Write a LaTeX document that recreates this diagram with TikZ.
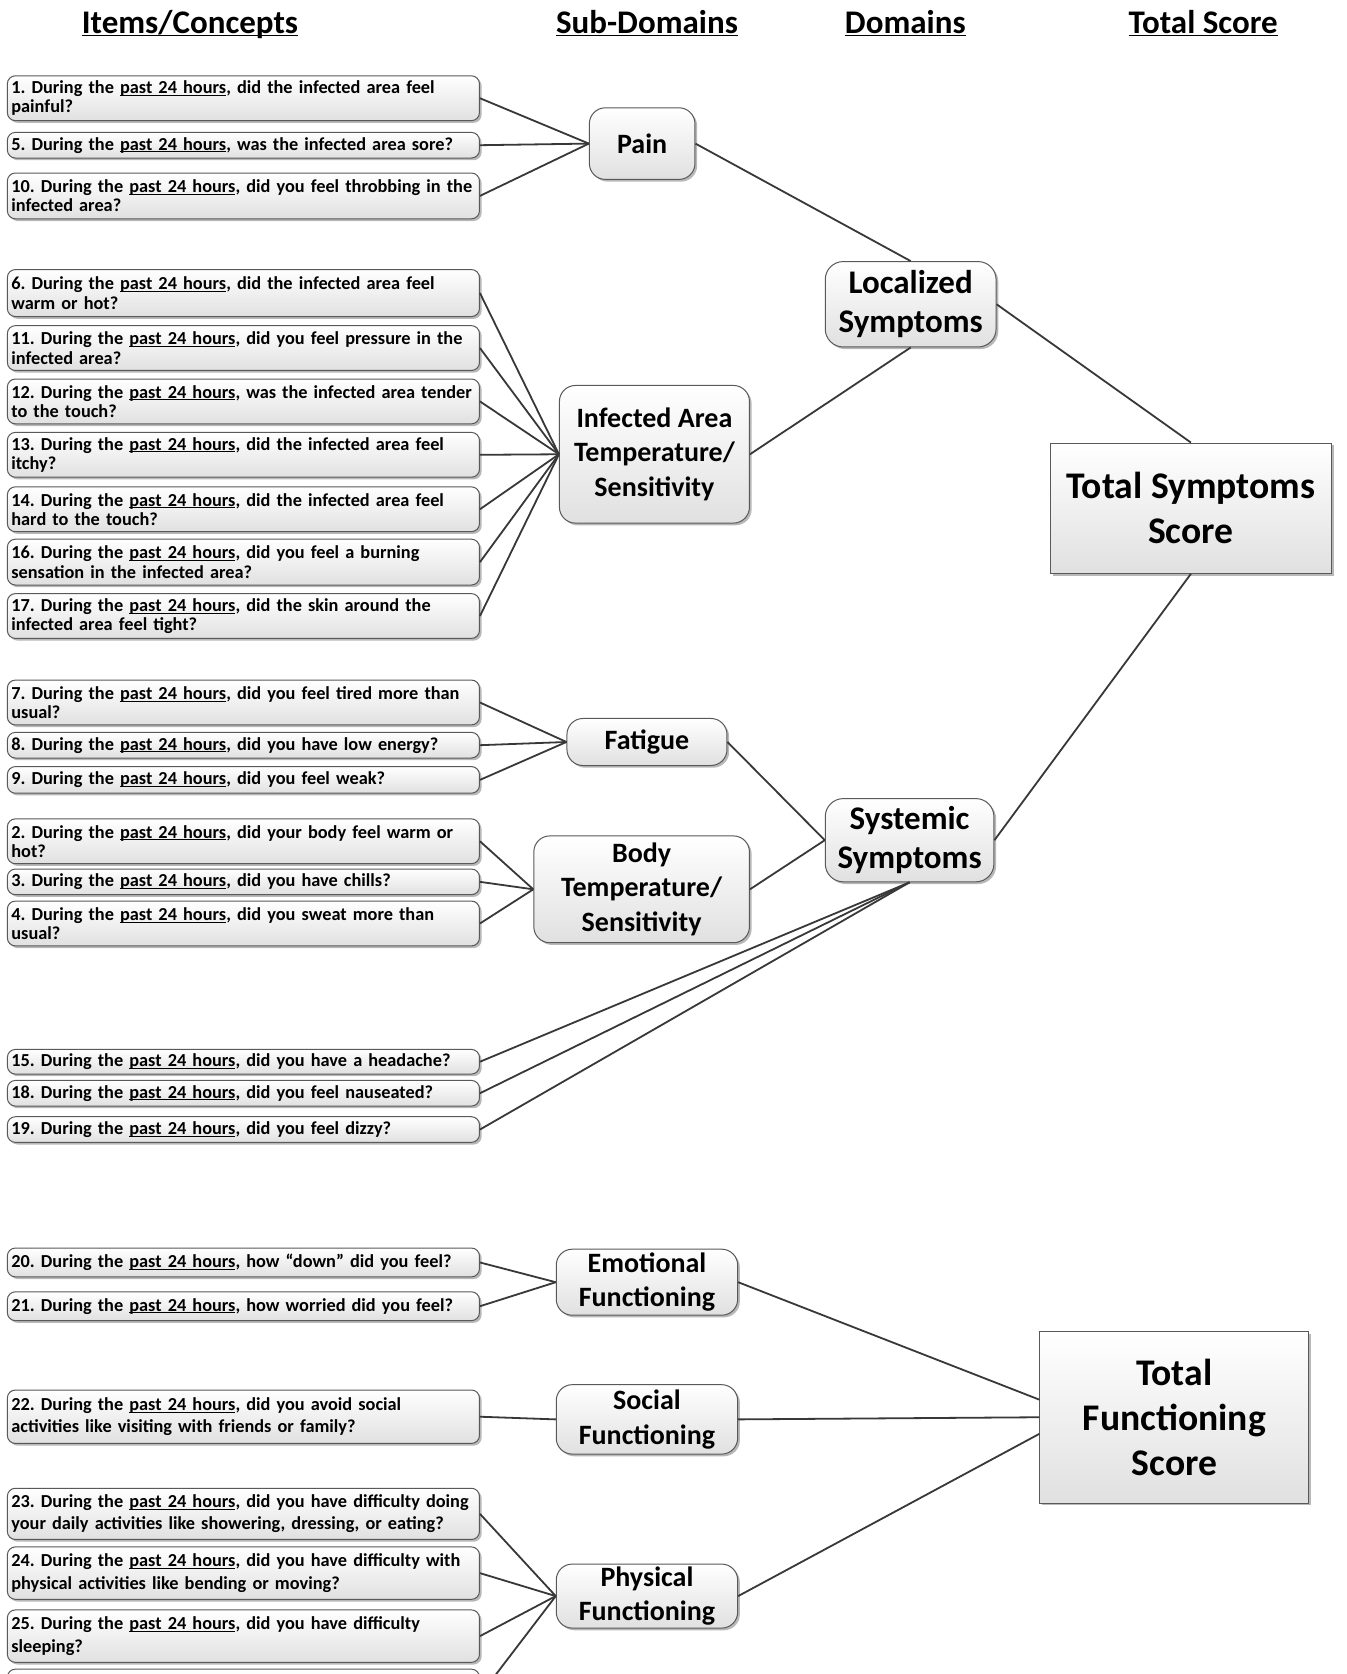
\documentclass[tikz,border=0pt]{standalone}
\usepackage{fontspec}
\setmainfont{Carlito}[BoldFont={Carlito Bold}]
\usetikzlibrary{shadows}
\frenchspacing
\newcommand\uln[2]{\setbox0\hbox{#2}\rlap{\rule[-#1]{\wd0}{0.45pt}}\box0}
\newcommand\pst{\uln{1.1pt}{past 24 hours}}
\tikzset{
  boxbase/.style={draw=black!65, line width=0.5pt, top color=white, bottom color=black!12,
    drop shadow={shadow xshift=1.1pt, shadow yshift=-1.1pt, fill=black!28, opacity=1}},
  item/.style={boxbase, rounded corners=4pt, text width=232pt, align=left, inner xsep=2pt, inner ysep=0.5pt,
    font=\bfseries\fontsize{9.15}{9.6}\selectfont, anchor=center},
  itemlow/.style={item, font=\bfseries\fontsize{9.15}{11.2}\selectfont},
  sub/.style={boxbase, rounded corners=8pt, align=center, inner sep=0pt,
    font=\bfseries\fontsize{14}{17.3}\selectfont},
  dom/.style={boxbase, rounded corners=9pt, align=center, inner sep=0pt,
    font=\bfseries\fontsize{16.5}{19.7}\selectfont},
  tot/.style={boxbase, align=center, inner sep=0pt,
    font=\bfseries\fontsize{18.8}{22.6}\selectfont},
  head/.style={font=\bfseries\fontsize{16.5}{19}\selectfont, inner sep=0pt, anchor=base},
  conn/.style={draw=black!78, line width=0.9pt},
}
\begin{document}
\begin{tikzpicture}[x=0.5337pt,y=-0.5337pt]
\useasboundingbox (0,0) rectangle (1261,1568);
\clip (0,0) rectangle (1261,1568);
\fill[white] (0,0) rectangle (1261,1568);

% headers
\node[head] (h1) at (178,31) {\uln{1.6pt}{Items/Concepts}};
\node[head] (h2) at (606,31) {\uln{1.6pt}{Sub-Domains}};
\node[head] (h3) at (848,31) {\uln{1.6pt}{Domains}};
\node[head] (h4) at (1127,31) {\uln{1.6pt}{Total Score}};

% items
\node[item, minimum height=22.4pt] (i1) at (228,92) {1. During the \pst, did the infected area feel\\painful?};
\node[item, minimum height=12.8pt] (i5) at (228,136) {5. During the \pst, was the infected area sore?};
\node[item, minimum height=22.9pt] (i10) at (228,183.5) {10. During the \pst, did you feel throbbing in the\\infected area?};
\node[item, minimum height=23.5pt] (i6) at (228,274.5) {6. During the \pst, did the infected area feel\\warm or hot?};
\node[item, minimum height=22.4pt] (i11) at (228,326) {11. During the \pst, did you feel pressure in the\\infected area?};
\node[item, minimum height=22.4pt] (i12) at (228,376) {12. During the \pst, was the infected area tender\\to the touch?};
\node[item, minimum height=22.4pt] (i13) at (228,426) {13. During the \pst, did the infected area feel\\itchy?};
\node[item, minimum height=22.4pt] (i14) at (228,477) {14. During the \pst, did the infected area feel\\hard to the touch?};
\node[item, minimum height=22.9pt] (i16) at (228,526.5) {16. During the \pst, did you feel a burning\\sensation in the infected area?};
\node[item, minimum height=22.4pt] (i17) at (228,577) {17. During the \pst, did the skin around the\\infected area feel tight?};
\node[item, minimum height=22.4pt] (i7) at (228,658) {7. During the \pst, did you feel tired more than\\usual?};
\node[item, minimum height=12.8pt] (i8) at (228,698) {8. During the \pst, did you have low energy?};
\node[item, minimum height=13.3pt] (i9) at (228,730.5) {9. During the \pst, did you feel weak?};
\node[item, minimum height=22.4pt] (i2) at (228,788) {2. During the \pst, did your body feel warm or\\hot?};
\node[item, minimum height=12.8pt] (i3) at (228,826) {3. During the \pst, did you have chills?};
\node[item, minimum height=22.4pt] (i4) at (228,865) {4. During the \pst, did you sweat more than\\usual?};
\node[item, minimum height=12.3pt] (i15) at (228,994.5) {15. During the \pst, did you have a headache?};
\node[item, minimum height=12.8pt] (i18) at (228,1024) {18. During the \pst, did you feel nauseated?};
\node[item, minimum height=12.8pt] (i19) at (228,1058) {19. During the \pst, did you feel dizzy?};
\node[itemlow, minimum height=14.4pt] (i20) at (228,1182.5) {20. During the \pst, how “down” did you feel?};
\node[itemlow, minimum height=14.4pt] (i21) at (228,1223.5) {21. During the \pst, how worried did you feel?};
\node[itemlow, minimum height=26.7pt] (i22) at (228,1327) {22. During the \pst, did you avoid social\\activities like visiting with friends or family?};
\node[itemlow, minimum height=25.6pt] (i23) at (228,1418) {23. During the \pst, did you have difficulty doing\\your daily activities like showering, dressing, or eating?};
\node[itemlow, minimum height=26.2pt] (i24) at (228,1473.5) {24. During the \pst, did you have difficulty with\\physical activities like bending or moving?};
\node[itemlow, minimum height=26.2pt] (i25) at (228,1532.5) {25. During the \pst, did you have difficulty\\sleeping?};
\node[itemlow, minimum height=26.2pt] (i26) at (228,1588) {};

% sub-domains
\node[sub, minimum width=52.8pt, minimum height=35.8pt] (pain) at (601.5,134.5) {Pain};
\node[sub, minimum width=95pt, minimum height=68.8pt] (inf) at (613,425.5) {Infected Area\\Temperature/\\Sensitivity};
\node[sub, minimum width=80pt, minimum height=23.5pt] (fat) at (606,695) {Fatigue};
\node[sub, minimum width=107.8pt, minimum height=53.4pt] (body) at (601,833) {Body\\Temperature/\\Sensitivity};
\node[sub, minimum width=90.7pt, minimum height=33pt] (emo) at (606,1201) {Emotional\\Functioning};
\node[sub, minimum width=90.7pt, minimum height=34.7pt] (soc) at (606,1329.5) {Social\\Functioning};
\node[sub, minimum width=90.7pt, minimum height=32pt] (phy) at (606,1495) {Physical\\Functioning};

% domains
\node[dom, minimum width=85.4pt, minimum height=42.7pt] (loc) at (853,285) {Localized\\Symptoms};
\node[dom, minimum width=84.3pt, minimum height=41.6pt] (sys) at (852,787) {Systemic\\Symptoms};

% totals
\node[tot, minimum width=140.4pt, minimum height=65.1pt] (tss) at (1115.5,476) {Total Symptoms\\Score};
\node[tot, minimum width=134.5pt, minimum height=85.9pt] (tfs) at (1100,1327.5) {Total\\Functioning\\Score};

% connectors
\foreach \i in {i1,i5,i10} \draw[conn] (\i.east) -- (pain.west);
\foreach \i in {i6,i11,i12,i13,i14,i16,i17} \draw[conn] (\i.east) -- (inf.west);
\foreach \i in {i7,i8,i9} \draw[conn] (\i.east) -- (fat.west);
\foreach \i in {i2,i3,i4} \draw[conn] (\i.east) -- (body.west);
\foreach \i in {i15,i18,i19} \draw[conn] (\i.east) -- (sys.south);
\foreach \i in {i20,i21} \draw[conn] (\i.east) -- (emo.west);
\draw[conn] (i22.east) -- (soc.west);
\foreach \i in {i23,i24,i25,i26} \draw[conn] (\i.east) -- (phy.west);
\draw[conn] (pain.east) -- (loc.north);
\draw[conn] (inf.east) -- (loc.south);
\draw[conn] (fat.east) -- (sys.west);
\draw[conn] (body.east) -- (sys.west);
\draw[conn] (loc.east) -- (tss.north);
\draw[conn] (sys.east) -- (tss.south);
\draw[conn] (emo.east) -- ([yshift=8.8pt]tfs.west);
\draw[conn] (soc.east) -- (tfs.west);
\draw[conn] (phy.east) -- ([yshift=-8.3pt]tfs.west);
\end{tikzpicture}
\end{document}
